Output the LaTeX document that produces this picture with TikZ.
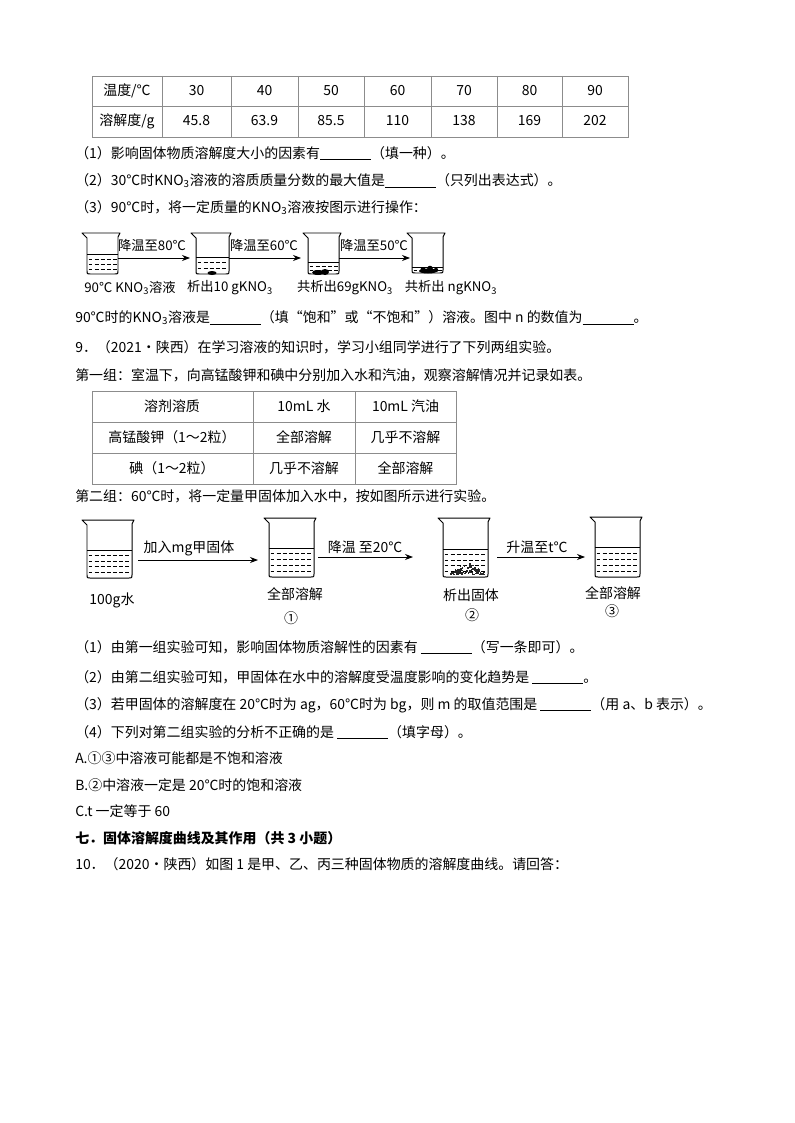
\documentclass[tikz,border=0pt]{standalone}
\usepackage{fontspec}
\setmainfont{Noto Sans CJK SC}
\usetikzlibrary{arrows.meta}
\definecolor{tabgray}{RGB}{140,140,140}
\newcommand\blk{\rule[-1.2pt]{13.5mm}{0.5pt}}
\newcommand\drawbeaker[6]{% xL xR yT yB yLiq ndash
  \draw[beak] (#1-5,#3) -- (#1,#3+5) -- (#1,#4-3) .. controls (#1,#4) .. (#1+3,#4) -- (#2-3,#4) .. controls (#2,#4) .. (#2,#4-3) -- (#2,#3+4) -- (#2+2,#3) -- cycle;
  \draw[liq] (#1,#5) -- (#2,#5);
  \foreach \k in {1,...,#6}{
    \draw[liqdash] (#1+1.5,{#5+\k*(#4-#5)/(#6+1)}) -- (#2-1.5,{#5+\k*(#4-#5)/(#6+1)});
  }
}
\tikzset{
  txt/.style={anchor=west, inner sep=0pt, font=\fontsize{10.5pt}{12pt}\selectfont},
  cell/.style={inner sep=0pt, font=\fontsize{10.5pt}{12pt}\selectfont},
  lbl/.style={inner sep=0pt, font=\fontsize{10pt}{12pt}\selectfont},
  lblb/.style={inner sep=0pt, font=\fontsize{10.5pt}{12pt}\selectfont},
  tabline/.style={draw=tabgray, line width=0.7pt},
  beak/.style={line width=0.75pt, line join=round},
  liq/.style={line width=0.6pt},
  liqdash/.style={line width=0.5pt, dash pattern=on 3pt off 1.6pt},
  arr/.style={-{Stealth[length=6pt,width=4.5pt]}, line width=0.6pt}
}
\begin{document}
\begin{tikzpicture}[x=0.26458mm, y=-0.26458mm]
\useasboundingbox[fill=white] (0,0) rectangle (794,1123);

% ---------- Table 1 ----------
\draw[tabline] (92,76) rectangle (628,137);
\draw[tabline] (92,106) -- (628,106);
\foreach \xx in {162,231,298,364,431,497,562}{\draw[tabline] (\xx,76) -- (\xx,137);}
\node[cell] (t1h1) at (127,91) {温度/℃};
\node[cell] (t1h2) at (127,121) {溶解度/g};
\foreach \cx/\tv/\sv [count=\i] in {196.5/30/45.8, 264.5/40/63.9, 331/50/85.5, 397.5/60/110, 464/70/138, 529.5/80/169, 595/90/202}{
  \node[cell] (t1a\i) at (\cx,91) {\tv};
  \node[cell] (t1b\i) at (\cx,121) {\sv};
}

\node[txt] (q1) at (75,153) {（1）影响固体物质溶解度大小的因素有\blk（填一种）。};
\node[txt] (q2) at (75,181) {（2）30℃时KNO\textsubscript{3}溶液的溶质质量分数的最大值是\blk（只列出表达式）。};
\node[txt] (q3) at (75,208) {（3）90℃时，将一定质量的KNO\textsubscript{3}溶液按图示进行操作：};

% ---------- Experiment 1 beakers ----------
\drawbeaker{87}{118}{233}{274}{254}{3}
\drawbeaker{196}{229}{233}{274}{257}{2}
\drawbeaker{308}{339}{233}{274}{262}{2}
\drawbeaker{412}{443}{233}{273}{267}{1}
% crystals
\fill (212,273) ellipse [x radius=4.5, y radius=2];
\fill (318,272.5) ellipse [x radius=6, y radius=2.5];
\fill (325,272) ellipse [x radius=4, y radius=3];
\fill (428,271) ellipse [x radius=9, y radius=2.5];
\fill (423,269.5) circle [radius=2.5];
\fill (430,268.5) circle [radius=2.8];
\fill (436,270) circle [radius=2.2];

\coordinate (a1s) at (118,258); \coordinate (a1e) at (190,258);
\coordinate (a2s) at (229,258); \coordinate (a2e) at (301,258);
\coordinate (a3s) at (339,258); \coordinate (a3e) at (410,258);
\draw[arr] (a1s) -- (a1e);
\draw[arr] (a2s) -- (a2e);
\draw[arr] (a3s) -- (a3e);
\node[lbl] (l1) at (152,245) {降温至80℃};
\node[lbl] (l2) at (264,245) {降温至60℃};
\node[lbl] (l3) at (374,245) {降温至50℃};
\node[lbl] (b1) at (130,288) {90℃ KNO\textsubscript{3}溶液};
\node[lbl] (b2) at (230,288) {析出10 gKNO\textsubscript{3}};
\node[lbl] (b3) at (345,288) {共析出69gKNO\textsubscript{3}};
\node[lbl] (b4) at (451,288) {共析出 ngKNO\textsubscript{3}};

\node[txt] (q4) at (75,318) {90℃时的KNO\textsubscript{3}溶液是\blk（填“饱和”或“不饱和”）溶液。图中 n 的数值为\blk。};
\node[txt] (p9) at (75,347) {9．（2021•陕西）在学习溶液的知识时，学习小组同学进行了下列两组实验。};
\node[txt] (g1) at (75,375) {第一组：室温下，向高锰酸钾和碘中分别加入水和汽油，观察溶解情况并记录如表。};

% ---------- Table 2 ----------
\draw[tabline] (92,391) rectangle (456,484);
\draw[tabline] (92,422) -- (456,422);
\draw[tabline] (92,453) -- (456,453);
\draw[tabline] (253,391) -- (253,484);
\draw[tabline] (355,391) -- (355,484);
\node[cell] (c11) at (172,406.5) {溶剂溶质};
\node[cell] (c12) at (304,406.5) {10mL 水};
\node[cell] (c13) at (405.5,406.5) {10mL 汽油};
\node[cell] (c21) at (172,437.5) {高锰酸钾（1～2粒）};
\node[cell] (c22) at (304,437.5) {全部溶解};
\node[cell] (c23) at (405.5,437.5) {几乎不溶解};
\node[cell] (c31) at (172,468.5) {碘（1～2粒）};
\node[cell] (c32) at (304,468.5) {几乎不溶解};
\node[cell] (c33) at (405.5,468.5) {全部溶解};

\node[txt] (g2) at (75,496) {第二组：60℃时，将一定量甲固体加入水中，按如图所示进行实验。};

% ---------- Experiment 2 beakers ----------
\drawbeaker{87}{132}{520}{578}{550}{4}
\drawbeaker{269}{314}{518}{577}{548}{4}
\drawbeaker{443}{488}{518}{577}{549}{4}
\drawbeaker{595}{640}{517}{577}{547}{4}
% precipitated solid in beaker 2
\pgfmathsetseed{11}
\foreach \n in {1,...,110}{
  \pgfmathsetmacro\px{450+34*rnd}
  \pgfmathsetmacro\py{575.5-14*rnd*max(0,1-abs(\px-467)/19)}
  \fill[black!85] (\px,\py) rectangle ++(1.4,-1.4);
}

\coordinate (c1s) at (138,560); \coordinate (c1e) at (258,560);
\coordinate (c2s) at (318,557); \coordinate (c2e) at (413,557);
\coordinate (c3s) at (497,557); \coordinate (c3e) at (585,557);
\draw[arr] (c1s) -- (c1e);
\draw[arr] (c2s) -- (c2e);
\draw[arr] (c3s) -- (c3e);
\node[lblb] (m1) at (189,548) {加入mg甲固体};
\node[lblb] (m2) at (365,547) {降温 至20℃};
\node[lblb] (m3) at (537,547) {升温至t℃};
\node[lblb] (n1) at (112,600) {100g水};
\node[lblb] (n2) at (295,594) {全部溶解};
\node[lblb] (n2b) at (291,618) {①};
\node[lblb] (n3) at (471,595) {析出固体};
\node[lblb] (n3b) at (472,615) {②};
\node[lblb] (n4) at (613,593) {全部溶解};
\node[lblb] (n4b) at (612,611) {③};

% ---------- questions ----------
\node[txt] (r1) at (75,647) {（1）由第一组实验可知，影响固体物质溶解性的因素有 \blk（写一条即可）。};
\node[txt] (r2) at (75,677) {（2）由第二组实验可知，甲固体在水中的溶解度受温度影响的变化趋势是 \blk。};
\node[txt] (r3) at (75,705) {（3）若甲固体的溶解度在 20℃时为 ag，60℃时为 bg，则 m 的取值范围是 \blk（用 a、b 表示）。};
\node[txt] (r4) at (75,732) {（4）下列对第二组实验的分析不正确的是 \blk（填字母）。};
\node[txt] (oA) at (75,758) {A.①③中溶液可能都是不饱和溶液};
\node[txt] (oB) at (75,785) {B.②中溶液一定是 20℃时的饱和溶液};
\node[txt] (oC) at (75,811) {C.t 一定等于 60};
\node[txt,font=\fontsize{10.5pt}{12pt}\selectfont\bfseries] (h7) at (75,838) {七．固体溶解度曲线及其作用（共 3 小题）};
\node[txt] (p10) at (75,864) {10．（2020•陕西）如图 1 是甲、乙、丙三种固体物质的溶解度曲线。请回答：};
\end{tikzpicture}
\end{document}
